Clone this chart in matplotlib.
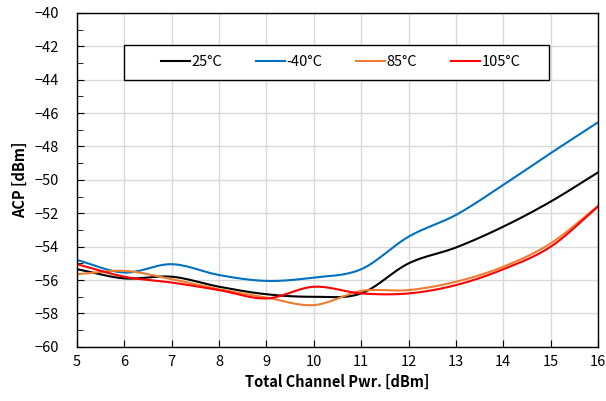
import numpy as np
import matplotlib.pyplot as plt
from matplotlib.ticker import MultipleLocator
from matplotlib.patches import Rectangle

# readings at each integer channel power
pwr = [5, 6, 7, 8, 9, 10, 11, 12, 13, 14, 15, 16]
acp_25 = [-55.35, -55.9, -55.8, -56.4, -56.85, -57.0, -56.8, -55.0, -54.05, -52.8, -51.3, -49.55]
acp_m40 = [-54.8, -55.55, -55.05, -55.7, -56.05, -55.85, -55.35, -53.4, -52.1, -50.3, -48.4, -46.55]
acp_85 = [-55.65, -55.45, -55.95, -56.55, -57.05, -57.5, -56.65, -56.6, -56.1, -55.2, -53.8, -51.55]
acp_105 = [-55.05, -55.8, -56.15, -56.6, -57.1, -56.4, -56.8, -56.8, -56.3, -55.35, -54.0, -51.6]

series = [('25°C', acp_25, '#000000'),
          ('-40°C', acp_m40, '#0070C0'),
          ('85°C', acp_85, '#ED7D31'),
          ('105°C', acp_105, '#FF0000')]


def smooth(x, y, n=20):
    # Catmull-Rom curve through the points, like Excel's smoothed line
    x = np.asarray(x, float)
    y = np.asarray(y, float)
    px = np.concatenate([[2 * x[0] - x[1]], x, [2 * x[-1] - x[-2]]])
    py = np.concatenate([[2 * y[0] - y[1]], y, [2 * y[-1] - y[-2]]])
    xs, ys = [], []
    t = np.linspace(0, 1, n, endpoint=False)
    for i in range(1, len(px) - 2):
        for p, out in ((px, xs), (py, ys)):
            p0, p1, p2, p3 = p[i - 1], p[i], p[i + 1], p[i + 2]
            out.extend(0.5 * (2 * p1 + (-p0 + p2) * t
                              + (2 * p0 - 5 * p1 + 4 * p2 - p3) * t ** 2
                              + (-p0 + 3 * p1 - 3 * p2 + p3) * t ** 3))
    xs.append(x[-1])
    ys.append(y[-1])
    return xs, ys


plt.rcParams['font.family'] = ['Noto Sans CJK KR', 'DejaVu Sans']

fig = plt.figure(figsize=(6.06, 4.01), dpi=100)
ax = fig.add_axes([0.127, 0.135, 0.86, 0.833])

for label, vals, col in series:
    sx, sy = smooth(pwr, vals)
    ax.plot(sx, sy, color=col, lw=1.5, label=label)

ax.set_xlim(5, 16)
ax.set_ylim(-60, -40)
ax.xaxis.set_major_locator(MultipleLocator(1))
ax.yaxis.set_major_locator(MultipleLocator(2))
ax.yaxis.set_minor_locator(MultipleLocator(1))
ax.grid(True, which='major', color='#d9d9d9', lw=1)
ax.set_axisbelow(True)
ax.tick_params(which='both', direction='in', labelsize=10.5, color='black')
ax.tick_params(which='major', length=5)
ax.tick_params(which='minor', length=4)
ax.tick_params(axis='x', pad=6)
ax.tick_params(axis='y', pad=13)
for s in ax.spines.values():
    s.set_color('black')
    s.set_linewidth(1)

ax.set_xlabel('Total Channel Pwr. [dBm]', fontsize=10.5, fontweight='bold', labelpad=3)
ax.set_ylabel('ACP [dBm]', fontsize=10.5, fontweight='bold', labelpad=5)

# legend box drawn separately so its width matches the original
ax.add_patch(Rectangle((0.09, 0.799), 0.816, 0.105, transform=ax.transAxes,
                       facecolor='white', edgecolor='black', lw=1, zorder=4))
leg = ax.legend(loc='center', bbox_to_anchor=(0.506, 0.852), ncol=4, fontsize=10.5,
                frameon=False, handlelength=2.0, handletextpad=0.1, columnspacing=2.3)
leg.set_zorder(5)

plt.savefig('out.png', dpi=100)
